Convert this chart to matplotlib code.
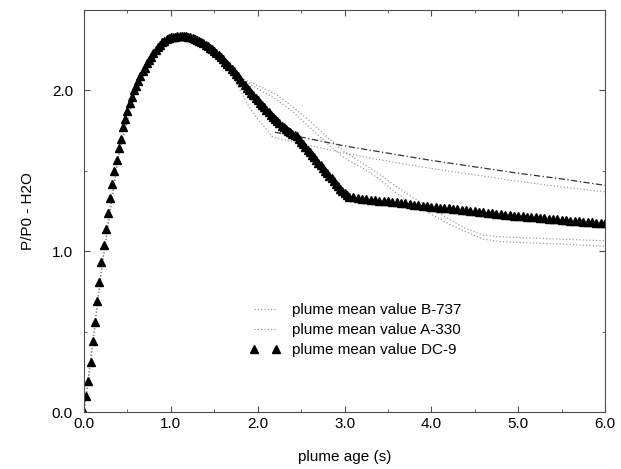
import numpy as np
import matplotlib
matplotlib.use('Agg')
import matplotlib.pyplot as plt
from matplotlib.ticker import MultipleLocator

plt.rcParams['font.family'] = ['Liberation Sans', 'DejaVu Sans']

# DC-9: sample times (0.025 s up to 3.05 s, then 0.05 s)
dc9_t = np.concatenate([np.arange(0, 3.0501, 0.025), np.arange(3.10, 6.0001, 0.05)])
dc9_v = [
    # 0.0 - 1.0
    0.00, 0.10, 0.19, 0.31, 0.44, 0.56, 0.69, 0.81, 0.93, 1.04,
    1.14, 1.24, 1.33, 1.42, 1.50, 1.57, 1.64, 1.70, 1.77, 1.82,
    1.87, 1.92, 1.96, 2.00, 2.03, 2.06, 2.09, 2.12, 2.14, 2.17,
    2.19, 2.21, 2.23, 2.25, 2.27, 2.28, 2.30, 2.31, 2.32, 2.325,
    2.33,
    # 1.025 - 3.05
    2.333, 2.335, 2.338, 2.34, 2.34, 2.34, 2.338, 2.335, 2.33, 2.325,
    2.32, 2.315, 2.308, 2.30, 2.293, 2.285, 2.275, 2.265, 2.255, 2.245,
    2.233, 2.22, 2.208, 2.195, 2.18, 2.165, 2.15, 2.135, 2.12, 2.105,
    2.088, 2.07, 2.052, 2.035, 2.018, 2.00, 1.985, 1.97, 1.955, 1.94,
    1.925, 1.91, 1.895, 1.88, 1.865, 1.85, 1.835, 1.82, 1.808, 1.795,
    1.782, 1.77, 1.76, 1.75, 1.74, 1.73, 1.722, 1.715, 1.698, 1.68,
    1.665, 1.65, 1.632, 1.615, 1.60, 1.585, 1.568, 1.55, 1.535, 1.52,
    1.502, 1.485, 1.47, 1.455, 1.438, 1.42, 1.405, 1.39, 1.375, 1.36,
    1.35, 1.34,
    # 3.10 - 6.0
    1.335, 1.33, 1.328, 1.325, 1.32, 1.318, 1.315, 1.312, 1.31,
    1.307, 1.304, 1.30, 1.297, 1.294, 1.29, 1.287, 1.284, 1.281, 1.278,
    1.275, 1.272, 1.269, 1.266, 1.263, 1.26, 1.257, 1.254, 1.251, 1.248,
    1.245, 1.242, 1.24, 1.237, 1.234, 1.231, 1.228, 1.225, 1.222, 1.22,
    1.217, 1.215, 1.212, 1.21, 1.207, 1.205, 1.202, 1.20, 1.198, 1.196,
    1.193, 1.191, 1.189, 1.186, 1.184, 1.182, 1.18, 1.178, 1.176, 1.174,
]

# B-737
b737_t = [0, 0.1, 0.2, 0.3, 0.4, 0.5, 0.6, 0.7, 0.8, 0.9, 1.0, 1.1, 1.2, 1.3, 1.4,
          1.5, 1.6, 1.7, 1.8, 1.9, 2.0, 2.1, 2.17, 2.5, 3.0, 3.5, 4.0, 4.5, 5.0, 5.5, 6.0]
b737_v = [0, 0.40, 0.88, 1.28, 1.60, 1.84, 2.01, 2.13, 2.22, 2.28, 2.31, 2.32, 2.31, 2.29, 2.26,
          2.22, 2.17, 2.10, 2.00, 1.90, 1.82, 1.76, 1.71, 1.67, 1.61, 1.56, 1.515, 1.475, 1.435, 1.40, 1.37]
b737_t2 = [0, 0.2, 0.4, 0.6, 0.8, 1.0, 1.2, 1.4, 1.6, 1.8, 2.0, 2.2, 2.4, 2.6, 2.8, 3.0,
           3.2, 3.4, 3.6, 3.8, 4.0, 4.2, 4.4, 4.6, 4.8, 5.0, 5.5, 6.0]
b737_v2 = [0, 0.88, 1.60, 2.01, 2.22, 2.31, 2.33, 2.28, 2.19, 2.08, 2.03, 1.98, 1.90, 1.81, 1.71, 1.62,
           1.55, 1.48, 1.40, 1.33, 1.27, 1.20, 1.14, 1.10, 1.09, 1.085, 1.075, 1.065]

# A-330
a330_t = [0, 0.2, 0.4, 0.6, 0.8, 1.0, 1.2, 1.4, 1.6, 1.8, 2.0, 2.2, 2.4, 2.6, 2.8, 3.0,
          3.2, 3.4, 3.6, 3.8, 4.0, 4.2, 4.4, 4.6, 4.8, 5.0, 5.5, 6.0]
a330_v = [0, 0.88, 1.60, 2.01, 2.22, 2.32, 2.33, 2.28, 2.19, 2.08, 2.01, 1.95, 1.87, 1.77, 1.67, 1.58,
          1.52, 1.45, 1.36, 1.29, 1.23, 1.17, 1.12, 1.075, 1.06, 1.055, 1.045, 1.03]
a330_t2 = [2.2, 2.5, 3.0, 3.5, 4.0, 4.5, 5.0, 5.5, 6.0]
a330_v2 = [1.74, 1.71, 1.655, 1.61, 1.565, 1.525, 1.485, 1.45, 1.41]

fig = plt.figure(figsize=(6.21, 4.69), dpi=100)
ax = fig.add_axes([0.1353, 0.1215, 0.839, 0.857])

dot = (0, (1, 2))
ax.plot(b737_t, b737_v, color='0.55', lw=0.8, ls=dot, label='plume mean value B-737')
ax.plot(b737_t2, b737_v2, color='0.55', lw=0.8, ls=dot)
ax.plot(a330_t, a330_v, color='0.55', lw=0.8, ls=dot, label='plume mean value A-330')
ax.plot(a330_t2, a330_v2, color='0.2', lw=0.9, ls=(0, (5, 2, 1, 2)))
ax.plot(dc9_t, dc9_v, ls='none', marker='^', ms=6, color='black', mec='black',
        label='plume mean value DC-9')

ax.set_xlim(0, 6)
ax.set_ylim(0, 2.5)
ax.xaxis.set_major_locator(MultipleLocator(1.0))
ax.xaxis.set_minor_locator(MultipleLocator(0.5))
ax.yaxis.set_major_locator(MultipleLocator(1.0))
ax.yaxis.set_minor_locator(MultipleLocator(0.5))
ax.xaxis.set_major_formatter(plt.FormatStrFormatter('%.1f'))
ax.yaxis.set_major_formatter(plt.FormatStrFormatter('%.1f'))
ax.tick_params(which='both', direction='in', top=True, right=True, labelsize=11, color='0.3')
ax.tick_params(which='major', length=4, width=0.8)
ax.tick_params(which='minor', length=2.5, width=0.6)
ax.tick_params(axis='y', which='major', pad=8)
for s in ax.spines.values():
    s.set_linewidth(0.8)
    s.set_color('0.3')

ax.set_xlabel('plume age (s)', fontsize=11, labelpad=14)
ax.set_ylabel('P/P0 - H2O', fontsize=11, labelpad=12)

ax.legend(loc='center left', bbox_to_anchor=(0.318, 0.204), frameon=False, fontsize=11,
          numpoints=2, handlelength=2.0, handletextpad=0.8, labelspacing=0.4,
          borderpad=0, borderaxespad=0)

fig.savefig('out.png', dpi=100)
